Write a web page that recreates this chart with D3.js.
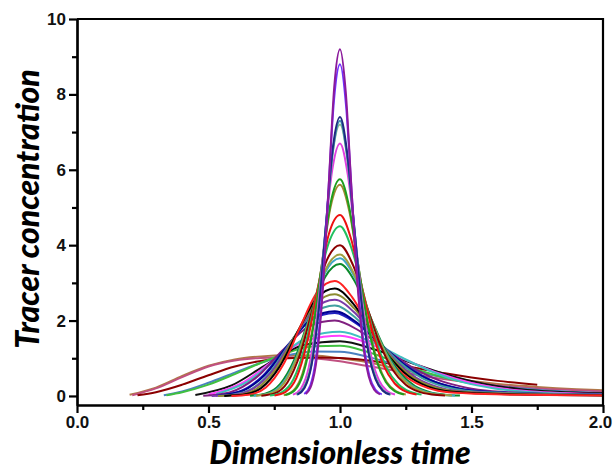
<!DOCTYPE html>
<html>
<head>
<meta charset="utf-8">
<script src="https://cdn.jsdelivr.net/npm/d3@7/dist/d3.min.js"></script>
<style>
  body { margin: 0; background: #fff; }
  .tick text { font-family: "Liberation Sans", Arial, sans-serif; font-weight: bold; font-size: 17px; }
  .title { font-family: Lato, "Open Sans", sans-serif; font-weight: 900; font-style: italic; font-size: 32px; }
</style>
</head>
<body>
<script>
// dimensionless time (x) and tracer concentration (y) for each curve
var tValues = [
  [0.2,0.3,0.4,0.5,0.6,0.7,0.8,0.9,1.0,1.1,1.2,1.3,1.4,1.5,1.6,1.75,1.9,2.0],
  [0.21,0.3,0.4,0.5,0.6,0.7,0.8,0.9,1.0,1.1,1.2,1.3,1.4,1.5,1.6,1.75,1.9,2.0],
  [0.23,0.3,0.4,0.5,0.6,0.7,0.8,0.9,1.0,1.1,1.2,1.3,1.4,1.5,1.6,1.75],
  [0.33,0.4,0.5,0.6,0.7,0.8,0.9,1.0,1.1,1.2,1.3,1.4,1.5,1.6,1.8,2.0],
  [0.34,0.4,0.5,0.6,0.7,0.8,0.9,1.0,1.1,1.2,1.3,1.4,1.5,1.6,1.8,2.0],
  [0.45,0.5875,0.725,0.8625,1.0,1.1375,1.275,1.4125,1.55,1.6875,1.825,2.0],
  [0.5,0.625,0.75,0.875,1.0,1.125,1.25,1.375,1.5,1.625,1.75,1.875,2.0],
  [0.53,0.6475,0.765,0.8825,1.0,1.1175,1.235,1.3525,1.47,1.5875,1.705,1.8225,1.94,2.0],
  [0.48,0.58,0.68,0.78,0.88,0.98,1.08,1.18,1.28,1.38,1.48,1.58,1.78,2.0],
  [0.528,0.618,0.709,0.799,0.89,0.98,1.071,1.161,1.252,1.342,1.433,1.523,1.68,2.0],
  [0.538,0.626,0.715,0.803,0.892,0.98,1.069,1.157,1.246,1.334,1.423,1.511,1.68,2.0],
  [0.565,0.648,0.731,0.814,0.897,0.98,1.063,1.146,1.229,1.312,1.395,1.478,1.63,1.83,2.0],
  [0.512,0.59,0.668,0.746,0.824,0.902,0.98,1.058,1.136,1.214,1.292,1.37,1.448,1.58,1.78,2.0],
  [0.536,0.61,0.684,0.758,0.832,0.906,0.98,1.054,1.128,1.202,1.276,1.35,1.424,1.58,1.78,2.0],
  [0.56,0.63,0.7,0.77,0.84,0.91,0.98,1.05,1.12,1.19,1.26,1.33,1.4,1.53,1.73,2.0],
  [0.587,0.653,0.718,0.784,0.849,0.915,0.98,1.046,1.111,1.177,1.242,1.308,1.373,1.48,1.68,2.0],
  [0.658,0.715,0.772,0.829,0.886,0.943,1.0,1.057,1.114,1.171,1.228,1.285,1.342,1.399,1.456],
  [0.672,0.727,0.781,0.836,0.891,0.945,1.0,1.055,1.109,1.164,1.219,1.273,1.328,1.383,1.437],
  [0.681,0.734,0.787,0.84,0.894,0.947,1.0,1.053,1.106,1.16,1.213,1.266,1.319,1.372,1.426],
  [0.701,0.751,0.8,0.85,0.9,0.95,1.0,1.05,1.1,1.15,1.2,1.25,1.299,1.349,1.399],
  [0.734,0.778,0.823,0.867,0.911,0.956,1.0,1.044,1.089,1.133,1.177,1.222,1.266,1.31],
  [0.751,0.792,0.834,0.875,0.917,0.958,1.0,1.042,1.083,1.125,1.166,1.208,1.249,1.291],
  [0.786,0.822,0.857,0.893,0.929,0.964,1.0,1.036,1.071,1.107,1.143,1.178,1.214,1.25],
  [0.792,0.827,0.861,0.896,0.931,0.965,1.0,1.035,1.069,1.104,1.139,1.174,1.208,1.243],
  [0.821,0.851,0.881,0.911,0.94,0.97,1.0,1.03,1.06,1.089,1.119,1.149,1.179,1.209],
  [0.834,0.861,0.889,0.917,0.945,0.972,1.0,1.028,1.055,1.083,1.111,1.139,1.166,1.194],
  [0.836,0.863,0.891,0.918,0.945,0.973,1.0,1.027,1.055,1.082,1.109,1.137,1.164,1.191],
  [0.838,0.865,0.892,0.919,0.946,0.973,1.0,1.027,1.054,1.081,1.108,1.135,1.162,1.189],
  [0.864,0.887,0.909,0.932,0.955,0.977,1.0,1.023,1.045,1.068,1.091,1.113,1.136,1.159],
  [0.87,0.8915,0.913,0.935,0.957,0.978,1.0,1.022,1.043,1.065,1.087,1.109,1.13,1.152]
];

var cValues = [
  [0.03,0.22,0.53,0.8,0.97,1.05,1.08,1.07,1.0,0.9,0.75,0.62,0.5,0.4,0.32,0.24,0.18,0.15],
  [0.02,0.2,0.5,0.78,0.94,1.01,1.03,1.0,0.92,0.8,0.68,0.55,0.44,0.35,0.28,0.2,0.15,0.12],
  [0.02,0.1,0.3,0.55,0.78,0.93,1.0,1.02,1.01,0.95,0.85,0.73,0.6,0.49,0.4,0.3],
  [0.02,0.12,0.35,0.62,0.88,1.08,1.18,1.17,1.05,0.85,0.65,0.48,0.35,0.26,0.14,0.08],
  [0.02,0.1,0.3,0.58,0.88,1.15,1.32,1.33,1.18,0.93,0.68,0.48,0.33,0.23,0.11,0.06],
  [0.025,0.279,0.854,1.351,1.45,1.218,0.868,0.55,0.32,0.18,0.11,0.07],
  [0.041,0.335,0.949,1.483,1.6,1.35,0.959,0.602,0.344,0.19,0.11,0.07,0.05],
  [0.054,0.372,1.011,1.571,1.7,1.438,1.02,0.636,0.36,0.2,0.11,0.065,0.04,0.035],
  [0.005,0.092,0.479,1.197,1.835,2.0,1.702,1.204,0.738,0.405,0.22,0.125,0.06,0.035],
  [0.01,0.121,0.551,1.32,2.01,2.2,1.879,1.326,0.805,0.434,0.23,0.13,0.075,0.035],
  [0.01,0.124,0.564,1.35,2.056,2.25,1.922,1.356,0.823,0.443,0.24,0.13,0.07,0.03],
  [0.011,0.132,0.601,1.44,2.193,2.4,2.05,1.446,0.878,0.473,0.25,0.14,0.08,0.045,0.03],
  [0.001,0.026,0.187,0.691,1.537,2.312,2.55,2.193,1.54,0.915,0.473,0.24,0.13,0.075,0.04,0.025],
  [0.002,0.027,0.198,0.731,1.628,2.448,2.7,2.322,1.631,0.969,0.5,0.25,0.13,0.07,0.04,0.02],
  [0.002,0.029,0.209,0.772,1.718,2.584,2.85,2.451,1.721,1.023,0.528,0.26,0.13,0.07,0.035,0.015],
  [0.002,0.031,0.224,0.826,1.839,2.765,3.05,2.623,1.842,1.094,0.565,0.28,0.14,0.07,0.03,0.01],
  [0.006,0.059,0.313,1.003,2.116,3.151,3.5,3.03,2.118,1.231,0.609,0.262,0.1,0.034,0.011],
  [0.006,0.061,0.327,1.046,2.207,3.286,3.65,3.159,2.209,1.284,0.635,0.273,0.104,0.035,0.011],
  [0.006,0.063,0.336,1.075,2.267,3.376,3.75,3.246,2.269,1.319,0.653,0.281,0.107,0.036,0.011],
  [0.007,0.067,0.358,1.146,2.418,3.601,4.0,3.462,2.42,1.407,0.696,0.3,0.114,0.039,0.012],
  [0.012,0.096,0.444,1.327,2.724,4.036,4.5,3.909,2.725,1.562,0.753,0.311,0.111,0.035],
  [0.013,0.102,0.473,1.416,2.905,4.305,4.8,4.17,2.907,1.667,0.803,0.331,0.119,0.038],
  [0.021,0.14,0.59,1.684,3.392,5.008,5.6,4.878,3.393,1.925,0.908,0.362,0.124,0.037],
  [0.022,0.143,0.606,1.729,3.483,5.142,5.75,5.009,3.484,1.976,0.932,0.371,0.127,0.038],
  [0.034,0.193,0.75,2.052,4.06,5.974,6.7,5.852,4.061,2.278,1.049,0.403,0.13,0.036],
  [0.036,0.207,0.806,2.205,4.363,6.42,7.2,6.289,4.364,2.448,1.128,0.433,0.14,0.039],
  [0.037,0.21,0.818,2.236,4.424,6.509,7.3,6.377,4.425,2.482,1.143,0.439,0.142,0.039],
  [0.037,0.213,0.829,2.267,4.484,6.599,7.4,6.464,4.485,2.516,1.159,0.445,0.144,0.04],
  [0.052,0.276,1.024,2.727,5.335,7.832,8.8,7.702,5.335,2.969,1.346,0.502,0.157,0.041],
  [0.054,0.289,1.071,2.851,5.577,8.188,9.2,8.052,5.577,3.104,1.407,0.525,0.164,0.043]
];

var lineColors = [
  "#b07848", "#c05080", "#8b0000", "#4a80c0", "#40c040",
  "#101010", "#ff40ff", "#40c0c0", "#802080", "#2020c0",
  "#000090", "#40a0a0", "#7a3aa8", "#8c8c30", "#000000",
  "#ff2222", "#0a8a2a", "#40a8c8", "#a0a040", "#8b0000",
  "#22c060", "#ee1111", "#a08a30", "#1e9e1e", "#e040e0",
  "#8fbc8f", "#3a8fb0", "#202a80", "#7030ff", "#8b1a9b"
];

var xTicks = [0, 0.5, 1.0, 1.5, 2.0];
var xMinorTicks = [0.25, 0.75, 1.25, 1.75];
var yTicks = [0, 2, 4, 6, 8, 10];
var yMinorTicks = [1, 3, 5, 7, 9];

var build_chart = function() {
  var w = 613;
  var h = 475;
  var left = 77, right = 603, top = 19, bottom = 405;

  var x = d3.scaleLinear().domain([0, 2]).range([left, right]);
  var y = d3.scaleLinear().domain([-0.24, 10]).range([bottom, top]);

  var svg = d3.select("body")
    .append("svg")
    .attr("width", w)
    .attr("height", h);

  var line = d3.line()
    .x(function(d) { return x(d[0]); })
    .y(function(d) { return y(d[1]); })
    .curve(d3.curveMonotoneX);

  // curves, broad ones first so the sharp peaks sit on top
  svg.append("g")
    .selectAll("path")
    .data(tValues.map(function(ts, i) {
      return ts.map(function(t, j) { return [t, cValues[i][j]]; });
    }))
    .enter()
    .append("path")
    .attr("d", line)
    .attr("fill", "none")
    .attr("stroke", function(d, i) { return lineColors[i]; })
    .attr("stroke-width", 2);

  // frame
  svg.append("path")
    .attr("d", "M" + left + "," + top + "H" + right + "V" + bottom)
    .attr("fill", "none")
    .attr("stroke", "#000")
    .attr("stroke-width", 2.2);

  var x_axis = d3.axisBottom(x)
    .tickValues(xTicks)
    .tickSize(8)
    .tickSizeOuter(0)
    .tickPadding(3)
    .tickFormat(d3.format(".1f"));

  var x_minor = d3.axisBottom(x)
    .tickValues(xMinorTicks)
    .tickSize(5)
    .tickSizeOuter(0)
    .tickFormat("");

  var y_axis = d3.axisLeft(y)
    .tickValues(yTicks)
    .tickSize(8)
    .tickSizeOuter(0)
    .tickPadding(3)
    .tickFormat(d3.format("d"));

  var y_minor = d3.axisLeft(y)
    .tickValues(yMinorTicks)
    .tickSize(5)
    .tickSizeOuter(0)
    .tickFormat("");

  var gx = svg.append("g")
    .attr("class", "axis")
    .attr("transform", "translate(0," + bottom + ")")
    .call(x_axis);
  svg.append("g")
    .attr("class", "axis")
    .attr("transform", "translate(0," + bottom + ")")
    .call(x_minor);
  [y_axis, y_minor].forEach(function(a) {
    svg.append("g")
      .attr("class", "axis")
      .attr("transform", "translate(" + left + ",0)")
      .call(a);
  });

  // keep the last x label inside the window
  gx.selectAll(".tick text")
    .filter(function(d) { return d === 2; })
    .attr("dx", -3);

  svg.selectAll(".axis path, .axis line")
    .attr("stroke", "#000")
    .attr("stroke-width", 2.2);
  svg.selectAll(".axis text").attr("fill", "#111");

  svg.append("text")
    .attr("class", "title")
    .attr("x", 340)
    .attr("y", 464)
    .attr("text-anchor", "middle")
    .text("Dimensionless time");

  svg.append("text")
    .attr("class", "title")
    .attr("transform", "translate(39," + 209 + ") rotate(-90)")
    .attr("text-anchor", "middle")
    .text("Tracer concentration");
};

build_chart();
</script>
</body>
</html>
